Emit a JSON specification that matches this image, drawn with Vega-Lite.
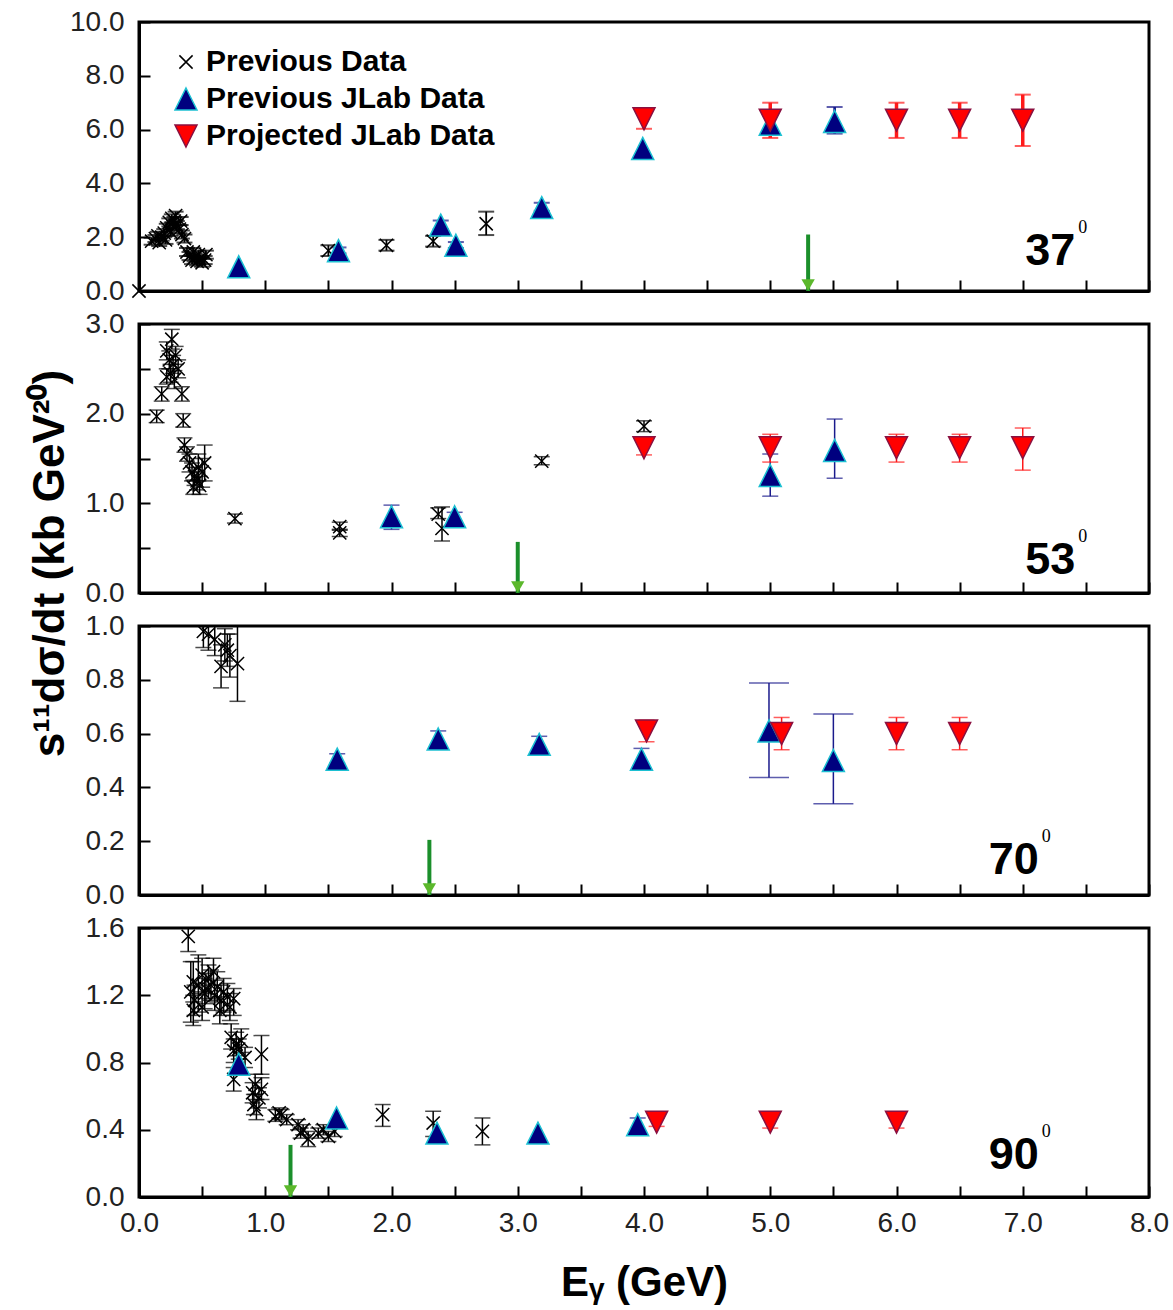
{
  "$schema": "https://vega.github.io/schema/vega-lite/v6.json",
  "background": "white",
  "padding": {"left": 26, "top": 6, "right": 5, "bottom": 5},
  "bounds": "flush",
  "spacing": 33,
  "resolve": {"legend": {"shape": "independent", "fill": "independent", "stroke": "independent"}},
  "config": {
    "font": "Liberation Sans",
    "view": {"stroke": "black", "strokeWidth": 3},
    "axis": {"domainColor": "black", "domainWidth": 3, "tickColor": "black", "tickWidth": 2, "tickSize": -11, "labelFont": "Liberation Sans", "labelFontSize": 28, "labelColor": "#222", "grid": false, "titleFont": "Liberation Sans", "titleFontWeight": "bold", "titleColor": "black", "labelOverlap": false, "labelFlush": false, "labelBound": false}
  },
  "datasets": {
    "notes": [
      {"panel": "37", "angle": "37", "E": 5.3, "top": 2.1},
      {"panel": "53", "angle": "53", "E": 3.0, "top": 0.57},
      {"panel": "70", "angle": "70", "E": 2.3, "top": 0.205},
      {"panel": "90", "angle": "90", "E": 1.2, "top": 0.31}
    ],
    "pts": [
      {"panel": "37", "series": "Previous Data", "E": 0.0, "v": 0.0},
      {"panel": "37", "series": "Previous Data", "E": 0.10, "v": 1.85, "lo": 1.72, "hi": 1.98},
      {"panel": "37", "series": "Previous Data", "E": 0.13, "v": 1.95, "lo": 1.82, "hi": 2.08},
      {"panel": "37", "series": "Previous Data", "E": 0.16, "v": 1.8, "lo": 1.67, "hi": 1.93},
      {"panel": "37", "series": "Previous Data", "E": 0.15, "v": 2.05, "lo": 1.9, "hi": 2.2},
      {"panel": "37", "series": "Previous Data", "E": 0.18, "v": 2.0, "lo": 1.87, "hi": 2.13},
      {"panel": "37", "series": "Previous Data", "E": 0.20, "v": 2.15, "lo": 2.0, "hi": 2.3},
      {"panel": "37", "series": "Previous Data", "E": 0.21, "v": 1.9, "lo": 1.75, "hi": 2.05},
      {"panel": "37", "series": "Previous Data", "E": 0.22, "v": 2.35, "lo": 2.2, "hi": 2.5},
      {"panel": "37", "series": "Previous Data", "E": 0.24, "v": 2.55, "lo": 2.4, "hi": 2.7},
      {"panel": "37", "series": "Previous Data", "E": 0.25, "v": 2.2, "lo": 2.05, "hi": 2.35},
      {"panel": "37", "series": "Previous Data", "E": 0.26, "v": 2.7, "lo": 2.55, "hi": 2.85},
      {"panel": "37", "series": "Previous Data", "E": 0.27, "v": 2.4, "lo": 2.25, "hi": 2.55},
      {"panel": "37", "series": "Previous Data", "E": 0.28, "v": 2.6, "lo": 2.45, "hi": 2.75},
      {"panel": "37", "series": "Previous Data", "E": 0.29, "v": 2.8, "lo": 2.65, "hi": 2.95},
      {"panel": "37", "series": "Previous Data", "E": 0.30, "v": 2.45, "lo": 2.3, "hi": 2.6},
      {"panel": "37", "series": "Previous Data", "E": 0.32, "v": 2.3, "lo": 2.15, "hi": 2.45},
      {"panel": "37", "series": "Previous Data", "E": 0.33, "v": 2.6, "lo": 2.45, "hi": 2.75},
      {"panel": "37", "series": "Previous Data", "E": 0.34, "v": 2.1, "lo": 1.95, "hi": 2.25},
      {"panel": "37", "series": "Previous Data", "E": 0.36, "v": 1.95, "lo": 1.8, "hi": 2.1},
      {"panel": "37", "series": "Previous Data", "E": 0.38, "v": 1.45, "lo": 1.3, "hi": 1.6},
      {"panel": "37", "series": "Previous Data", "E": 0.40, "v": 1.3, "lo": 1.15, "hi": 1.45},
      {"panel": "37", "series": "Previous Data", "E": 0.42, "v": 1.15, "lo": 1.0, "hi": 1.3},
      {"panel": "37", "series": "Previous Data", "E": 0.43, "v": 1.45, "lo": 1.3, "hi": 1.6},
      {"panel": "37", "series": "Previous Data", "E": 0.44, "v": 1.25, "lo": 1.1, "hi": 1.4},
      {"panel": "37", "series": "Previous Data", "E": 0.46, "v": 1.1, "lo": 0.95, "hi": 1.25},
      {"panel": "37", "series": "Previous Data", "E": 0.47, "v": 1.35, "lo": 1.2, "hi": 1.5},
      {"panel": "37", "series": "Previous Data", "E": 0.48, "v": 1.2, "lo": 1.05, "hi": 1.35},
      {"panel": "37", "series": "Previous Data", "E": 0.50, "v": 1.05, "lo": 0.9, "hi": 1.2},
      {"panel": "37", "series": "Previous Data", "E": 0.52, "v": 1.15, "lo": 1.0, "hi": 1.3},
      {"panel": "37", "series": "Previous Data", "E": 0.53, "v": 1.35, "lo": 1.2, "hi": 1.5},
      {"panel": "37", "series": "Previous Data", "E": 1.50, "v": 1.5, "lo": 1.3, "hi": 1.7},
      {"panel": "37", "series": "Previous Data", "E": 1.96, "v": 1.7, "lo": 1.5, "hi": 1.9},
      {"panel": "37", "series": "Previous Data", "E": 2.33, "v": 1.85, "lo": 1.65, "hi": 2.05},
      {"panel": "37", "series": "Previous Data", "E": 2.75, "v": 2.5, "lo": 2.08, "hi": 2.95},
      {"panel": "37", "series": "Previous JLab Data", "E": 0.79, "v": 0.9},
      {"panel": "37", "series": "Previous JLab Data", "E": 1.58, "v": 1.5, "lo": 1.4, "hi": 1.62},
      {"panel": "37", "series": "Previous JLab Data", "E": 2.39, "v": 2.45, "lo": 2.3, "hi": 2.62},
      {"panel": "37", "series": "Previous JLab Data", "E": 2.51, "v": 1.7, "lo": 1.6, "hi": 1.82},
      {"panel": "37", "series": "Previous JLab Data", "E": 3.19, "v": 3.1, "lo": 2.98, "hi": 3.28},
      {"panel": "37", "series": "Previous JLab Data", "E": 3.99, "v": 5.3},
      {"panel": "37", "series": "Previous JLab Data", "E": 5.0, "v": 6.2},
      {"panel": "37", "series": "Previous JLab Data", "E": 5.51, "v": 6.3, "lo": 5.85, "hi": 6.84},
      {"panel": "37", "series": "Projected JLab Data", "E": 4.0, "v": 6.4, "lo": 6.03, "hi": 6.77},
      {"panel": "37", "series": "Projected JLab Data", "E": 5.0, "v": 6.35, "lo": 5.69, "hi": 7.0},
      {"panel": "37", "series": "Projected JLab Data", "E": 6.0, "v": 6.35, "lo": 5.69, "hi": 7.0},
      {"panel": "37", "series": "Projected JLab Data", "E": 6.5, "v": 6.35, "lo": 5.69, "hi": 7.0},
      {"panel": "37", "series": "Projected JLab Data", "E": 7.0, "v": 6.35, "lo": 5.39, "hi": 7.3},

      {"panel": "53", "series": "Previous Data", "E": 0.26, "v": 2.83, "lo": 2.72, "hi": 2.94},
      {"panel": "53", "series": "Previous Data", "E": 0.22, "v": 2.7, "lo": 2.6, "hi": 2.8},
      {"panel": "53", "series": "Previous Data", "E": 0.24, "v": 2.6, "lo": 2.5, "hi": 2.7},
      {"panel": "53", "series": "Previous Data", "E": 0.27, "v": 2.55, "lo": 2.45, "hi": 2.65},
      {"panel": "53", "series": "Previous Data", "E": 0.29, "v": 2.65, "lo": 2.55, "hi": 2.75},
      {"panel": "53", "series": "Previous Data", "E": 0.31, "v": 2.5, "lo": 2.4, "hi": 2.6},
      {"panel": "53", "series": "Previous Data", "E": 0.25, "v": 2.45, "lo": 2.35, "hi": 2.55},
      {"panel": "53", "series": "Previous Data", "E": 0.28, "v": 2.38, "lo": 2.28, "hi": 2.48},
      {"panel": "53", "series": "Previous Data", "E": 0.22, "v": 2.41, "lo": 2.33, "hi": 2.5},
      {"panel": "53", "series": "Previous Data", "E": 0.18, "v": 2.22, "lo": 2.14, "hi": 2.3},
      {"panel": "53", "series": "Previous Data", "E": 0.34, "v": 2.22, "lo": 2.14, "hi": 2.3},
      {"panel": "53", "series": "Previous Data", "E": 0.14, "v": 1.97, "lo": 1.9, "hi": 2.04},
      {"panel": "53", "series": "Previous Data", "E": 0.35, "v": 1.92, "lo": 1.85, "hi": 2.0},
      {"panel": "53", "series": "Previous Data", "E": 0.36, "v": 1.65, "lo": 1.57, "hi": 1.73},
      {"panel": "53", "series": "Previous Data", "E": 0.38, "v": 1.55, "lo": 1.47, "hi": 1.63},
      {"panel": "53", "series": "Previous Data", "E": 0.40, "v": 1.45, "lo": 1.35, "hi": 1.55},
      {"panel": "53", "series": "Previous Data", "E": 0.42, "v": 1.35, "lo": 1.25, "hi": 1.45},
      {"panel": "53", "series": "Previous Data", "E": 0.44, "v": 1.3, "lo": 1.2, "hi": 1.4},
      {"panel": "53", "series": "Previous Data", "E": 0.46, "v": 1.25, "lo": 1.15, "hi": 1.35},
      {"panel": "53", "series": "Previous Data", "E": 0.48, "v": 1.2, "lo": 1.1, "hi": 1.3},
      {"panel": "53", "series": "Previous Data", "E": 0.43, "v": 1.18, "lo": 1.1, "hi": 1.26},
      {"panel": "53", "series": "Previous Data", "E": 0.50, "v": 1.35, "lo": 1.18, "hi": 1.5},
      {"panel": "53", "series": "Previous Data", "E": 0.52, "v": 1.45, "lo": 1.25, "hi": 1.65},
      {"panel": "53", "series": "Previous Data", "E": 0.47, "v": 1.4, "lo": 1.25, "hi": 1.55},
      {"panel": "53", "series": "Previous Data", "E": 0.76, "v": 0.83, "lo": 0.78, "hi": 0.88},
      {"panel": "53", "series": "Previous Data", "E": 1.59, "v": 0.74, "lo": 0.7, "hi": 0.79},
      {"panel": "53", "series": "Previous Data", "E": 1.59, "v": 0.67, "lo": 0.63, "hi": 0.71},
      {"panel": "53", "series": "Previous Data", "E": 2.37, "v": 0.88, "lo": 0.83, "hi": 0.95},
      {"panel": "53", "series": "Previous Data", "E": 2.40, "v": 0.72, "lo": 0.58, "hi": 0.96},
      {"panel": "53", "series": "Previous Data", "E": 3.19, "v": 1.47, "lo": 1.43, "hi": 1.52},
      {"panel": "53", "series": "Previous Data", "E": 4.0, "v": 1.86, "lo": 1.8, "hi": 1.92},
      {"panel": "53", "series": "Previous JLab Data", "E": 2.0, "v": 0.85, "lo": 0.71, "hi": 0.98},
      {"panel": "53", "series": "Previous JLab Data", "E": 2.5, "v": 0.85, "lo": 0.8, "hi": 0.9},
      {"panel": "53", "series": "Previous JLab Data", "E": 5.0, "v": 1.31, "lo": 1.08, "hi": 1.55},
      {"panel": "53", "series": "Previous JLab Data", "E": 5.51, "v": 1.59, "lo": 1.28, "hi": 1.94},
      {"panel": "53", "series": "Projected JLab Data", "E": 4.0, "v": 1.62, "lo": 1.54, "hi": 1.7},
      {"panel": "53", "series": "Projected JLab Data", "E": 5.0, "v": 1.62, "lo": 1.46, "hi": 1.77},
      {"panel": "53", "series": "Projected JLab Data", "E": 6.0, "v": 1.62, "lo": 1.46, "hi": 1.77},
      {"panel": "53", "series": "Projected JLab Data", "E": 6.5, "v": 1.62, "lo": 1.46, "hi": 1.77},
      {"panel": "53", "series": "Projected JLab Data", "E": 7.0, "v": 1.62, "lo": 1.37, "hi": 1.84},

      {"panel": "70", "series": "Previous Data", "E": 0.51, "v": 0.98, "lo": 0.92, "hi": 1.04},
      {"panel": "70", "series": "Previous Data", "E": 0.55, "v": 0.97, "lo": 0.91, "hi": 1.03},
      {"panel": "70", "series": "Previous Data", "E": 0.60, "v": 0.95, "lo": 0.89, "hi": 1.01},
      {"panel": "70", "series": "Previous Data", "E": 0.65, "v": 0.85, "lo": 0.77, "hi": 0.93},
      {"panel": "70", "series": "Previous Data", "E": 0.68, "v": 0.93, "lo": 0.87, "hi": 0.99},
      {"panel": "70", "series": "Previous Data", "E": 0.70, "v": 0.91, "lo": 0.85, "hi": 0.97},
      {"panel": "70", "series": "Previous Data", "E": 0.72, "v": 0.89, "lo": 0.81, "hi": 0.97},
      {"panel": "70", "series": "Previous Data", "E": 0.78, "v": 0.86, "lo": 0.72, "hi": 1.0},
      {"panel": "70", "series": "Previous JLab Data", "E": 1.57, "v": 0.505, "lo": 0.49, "hi": 0.525},
      {"panel": "70", "series": "Previous JLab Data", "E": 2.37, "v": 0.58, "lo": 0.56, "hi": 0.61},
      {"panel": "70", "series": "Previous JLab Data", "E": 3.17, "v": 0.56, "lo": 0.54, "hi": 0.59},
      {"panel": "70", "series": "Previous JLab Data", "E": 3.98, "v": 0.505, "lo": 0.465, "hi": 0.545},
      {"panel": "70", "series": "Previous JLab Data", "E": 4.99, "v": 0.61, "lo": 0.437, "hi": 0.788},
      {"panel": "70", "series": "Previous JLab Data", "E": 5.50, "v": 0.50, "lo": 0.339, "hi": 0.673},
      {"panel": "70", "series": "Projected JLab Data", "E": 4.02, "v": 0.61, "lo": 0.57, "hi": 0.65},
      {"panel": "70", "series": "Projected JLab Data", "E": 5.09, "v": 0.6, "lo": 0.54, "hi": 0.66},
      {"panel": "70", "series": "Projected JLab Data", "E": 6.0, "v": 0.6, "lo": 0.54, "hi": 0.66},
      {"panel": "70", "series": "Projected JLab Data", "E": 6.5, "v": 0.6, "lo": 0.54, "hi": 0.66},

      {"panel": "90", "series": "Previous Data", "E": 0.39, "v": 1.55, "lo": 1.46, "hi": 1.64},
      {"panel": "90", "series": "Previous Data", "E": 0.41, "v": 1.22, "lo": 1.04, "hi": 1.4},
      {"panel": "90", "series": "Previous Data", "E": 0.43, "v": 1.28, "lo": 1.16, "hi": 1.4},
      {"panel": "90", "series": "Previous Data", "E": 0.44, "v": 1.17, "lo": 1.08, "hi": 1.26},
      {"panel": "90", "series": "Previous Data", "E": 0.47, "v": 1.26, "lo": 1.1, "hi": 1.44},
      {"panel": "90", "series": "Previous Data", "E": 0.50, "v": 1.32, "lo": 1.22, "hi": 1.42},
      {"panel": "90", "series": "Previous Data", "E": 0.52, "v": 1.21, "lo": 1.12, "hi": 1.3},
      {"panel": "90", "series": "Previous Data", "E": 0.53, "v": 1.24, "lo": 1.15, "hi": 1.33},
      {"panel": "90", "series": "Previous Data", "E": 0.55, "v": 1.30, "lo": 1.18, "hi": 1.38},
      {"panel": "90", "series": "Previous Data", "E": 0.57, "v": 1.26, "lo": 1.17, "hi": 1.35},
      {"panel": "90", "series": "Previous Data", "E": 0.59, "v": 1.34, "lo": 1.26, "hi": 1.42},
      {"panel": "90", "series": "Previous Data", "E": 0.60, "v": 1.20, "lo": 1.11, "hi": 1.29},
      {"panel": "90", "series": "Previous Data", "E": 0.62, "v": 1.25, "lo": 1.16, "hi": 1.34},
      {"panel": "90", "series": "Previous Data", "E": 0.64, "v": 1.11, "lo": 1.03, "hi": 1.19},
      {"panel": "90", "series": "Previous Data", "E": 0.65, "v": 1.17, "lo": 1.08, "hi": 1.26},
      {"panel": "90", "series": "Previous Data", "E": 0.67, "v": 1.22, "lo": 1.1, "hi": 1.3},
      {"panel": "90", "series": "Previous Data", "E": 0.70, "v": 1.19, "lo": 1.11, "hi": 1.27},
      {"panel": "90", "series": "Previous Data", "E": 0.72, "v": 1.13, "lo": 1.05, "hi": 1.21},
      {"panel": "90", "series": "Previous Data", "E": 0.75, "v": 1.18, "lo": 1.08, "hi": 1.24},
      {"panel": "90", "series": "Previous Data", "E": 0.43, "v": 1.11, "lo": 1.02, "hi": 1.2},
      {"panel": "90", "series": "Previous Data", "E": 0.50, "v": 1.13, "lo": 1.05, "hi": 1.21},
      {"panel": "90", "series": "Previous Data", "E": 0.73, "v": 0.95, "lo": 0.88, "hi": 1.03},
      {"panel": "90", "series": "Previous Data", "E": 0.77, "v": 0.91, "lo": 0.84, "hi": 0.98},
      {"panel": "90", "series": "Previous Data", "E": 0.81, "v": 0.93, "lo": 0.86, "hi": 1.0},
      {"panel": "90", "series": "Previous Data", "E": 0.75, "v": 0.87, "lo": 0.8, "hi": 0.94},
      {"panel": "90", "series": "Previous Data", "E": 0.84, "v": 0.83, "lo": 0.77, "hi": 0.89},
      {"panel": "90", "series": "Previous Data", "E": 0.79, "v": 0.88, "lo": 0.82, "hi": 0.94},
      {"panel": "90", "series": "Previous Data", "E": 0.75, "v": 0.70, "lo": 0.63, "hi": 0.77},
      {"panel": "90", "series": "Previous Data", "E": 0.97, "v": 0.85, "lo": 0.73, "hi": 0.96},
      {"panel": "90", "series": "Previous Data", "E": 0.92, "v": 0.67, "lo": 0.61, "hi": 0.73},
      {"panel": "90", "series": "Previous Data", "E": 0.95, "v": 0.59, "lo": 0.53, "hi": 0.65},
      {"panel": "90", "series": "Previous Data", "E": 0.91, "v": 0.55, "lo": 0.49, "hi": 0.61},
      {"panel": "90", "series": "Previous Data", "E": 0.97, "v": 0.64, "lo": 0.58, "hi": 0.71},
      {"panel": "90", "series": "Previous Data", "E": 0.93, "v": 0.52, "lo": 0.46, "hi": 0.58},
      {"panel": "90", "series": "Previous Data", "E": 0.90, "v": 0.62, "lo": 0.56, "hi": 0.68},
      {"panel": "90", "series": "Previous Data", "E": 1.08, "v": 0.48, "lo": 0.45, "hi": 0.52},
      {"panel": "90", "series": "Previous Data", "E": 1.13, "v": 0.49, "lo": 0.46, "hi": 0.52},
      {"panel": "90", "series": "Previous Data", "E": 1.17, "v": 0.46, "lo": 0.43, "hi": 0.49},
      {"panel": "90", "series": "Previous Data", "E": 1.11, "v": 0.50, "lo": 0.47, "hi": 0.53},
      {"panel": "90", "series": "Previous Data", "E": 1.26, "v": 0.43, "lo": 0.4, "hi": 0.46},
      {"panel": "90", "series": "Previous Data", "E": 1.30, "v": 0.40, "lo": 0.37, "hi": 0.43},
      {"panel": "90", "series": "Previous Data", "E": 1.34, "v": 0.345, "lo": 0.3, "hi": 0.39},
      {"panel": "90", "series": "Previous Data", "E": 1.28, "v": 0.38, "lo": 0.35, "hi": 0.41},
      {"panel": "90", "series": "Previous Data", "E": 1.46, "v": 0.40, "lo": 0.37, "hi": 0.43},
      {"panel": "90", "series": "Previous Data", "E": 1.50, "v": 0.36, "lo": 0.33, "hi": 0.39},
      {"panel": "90", "series": "Previous Data", "E": 1.55, "v": 0.39, "lo": 0.36, "hi": 0.42},
      {"panel": "90", "series": "Previous Data", "E": 1.42, "v": 0.38, "lo": 0.35, "hi": 0.41},
      {"panel": "90", "series": "Previous Data", "E": 1.93, "v": 0.49, "lo": 0.42, "hi": 0.55},
      {"panel": "90", "series": "Previous Data", "E": 2.33, "v": 0.44, "lo": 0.36, "hi": 0.51},
      {"panel": "90", "series": "Previous Data", "E": 2.72, "v": 0.39, "lo": 0.31, "hi": 0.47},
      {"panel": "90", "series": "Previous JLab Data", "E": 0.79, "v": 0.79},
      {"panel": "90", "series": "Previous JLab Data", "E": 1.565, "v": 0.47},
      {"panel": "90", "series": "Previous JLab Data", "E": 2.36, "v": 0.38},
      {"panel": "90", "series": "Previous JLab Data", "E": 3.16, "v": 0.38},
      {"panel": "90", "series": "Previous JLab Data", "E": 3.95, "v": 0.43, "lo": 0.39, "hi": 0.47},
      {"panel": "90", "series": "Projected JLab Data", "E": 4.10, "v": 0.445, "lo": 0.42, "hi": 0.47},
      {"panel": "90", "series": "Projected JLab Data", "E": 5.0, "v": 0.445, "lo": 0.41, "hi": 0.47},
      {"panel": "90", "series": "Projected JLab Data", "E": 6.0, "v": 0.445, "lo": 0.41, "hi": 0.47}
    ]
  },
  "vconcat": [
    {
      "width": 1010, "height": 269,
      "layer": [
        {
          "data": {"name": "pts"}, "transform": [{"filter": "datum.panel === '37' && datum.lo != null"}],
          "mark": {"type": "rule"},
          "encoding": {
            "x": {"field": "E", "type": "quantitative", "scale": {"domain": [0, 8], "nice": false}, "axis": {"values": [0,0.5,1,1.5,2,2.5,3,3.5,4,4.5,5,5.5,6,6.5,7,7.5,8], "labels": false, "title": null}},
            "y": {"field": "lo", "type": "quantitative", "scale": {"domain": [0, 10], "nice": false}, "axis": {"values": [0,2,4,6,8,10], "format": ".1f", "title": null, "labelPadding": 26}},
            "y2": {"field": "hi"},
            "color": {"field": "series", "type": "nominal", "scale": {"domain": ["Projected JLab Data", "Previous JLab Data", "Previous Data"], "range": ["#ff1a1a", "#1a1a8c", "#000000"]}, "legend": null},
            "strokeWidth": {"field": "series", "type": "nominal", "scale": {"domain": ["Projected JLab Data", "Previous JLab Data", "Previous Data"], "range": [3.5, 1.8, 1.4]}, "legend": null}
          }
        },
        {
          "data": {"name": "pts"}, "transform": [{"filter": "datum.panel === '37' && datum.lo != null"}],
          "layer": [
            {"mark": {"type": "tick", "orient": "horizontal", "thickness": 2, "size": 16},
             "encoding": {"y": {"field": "lo", "type": "quantitative", "scale": {"domain": [0, 10], "nice": false}}}},
            {"mark": {"type": "tick", "orient": "horizontal", "thickness": 2, "size": 16},
             "encoding": {"y": {"field": "hi", "type": "quantitative", "scale": {"domain": [0, 10], "nice": false}}}}
          ],
          "encoding": {
            "x": {"field": "E", "type": "quantitative"},
            "color": {"field": "series", "type": "nominal", "scale": {"domain": ["Projected JLab Data", "Previous JLab Data", "Previous Data"], "range": ["#ff1a1a", "#1a1a8c", "#000000"]}, "legend": null}
          }
        },
        {
          "data": {"name": "pts"}, "transform": [{"filter": "datum.panel === '37'"}],
          "mark": {"type": "point", "size": 484, "strokeWidth": 1.5, "opacity": 1, "fillOpacity": 1},
          "encoding": {
            "x": {"field": "E", "type": "quantitative"},
            "y": {"field": "v", "type": "quantitative", "scale": {"domain": [0, 10], "nice": false}},
            "shape": {"field": "series", "type": "nominal", "scale": {"domain": ["Previous Data", "Previous JLab Data", "Projected JLab Data"], "range": ["M-0.6,-0.6L0.6,0.6M-0.6,0.6L0.6,-0.6", "M0,-1L1,1L-1,1Z", "M0,1L1,-1L-1,-1Z"]},
              "legend": {"title": null, "orient": "none", "legendX": 32, "legendY": 25, "symbolSize": 484, "labelFontSize": 30, "labelFontWeight": "bold", "labelColor": "black", "labelFont": "Liberation Sans", "labelLimit": 500, "rowPadding": 7, "labelOffset": 5, "symbolStrokeWidth": 1.5, "padding": 0}},
            "fill": {"field": "series", "type": "nominal", "scale": {"domain": ["Previous Data", "Previous JLab Data", "Projected JLab Data"], "range": ["transparent", "#00007f", "#ff0000"]}},
            "stroke": {"field": "series", "type": "nominal", "scale": {"domain": ["Previous Data", "Previous JLab Data", "Projected JLab Data"], "range": ["#000000", "#1cc0d2", "#8a1040"]}}
          }
        },
        {
          "data": {"name": "notes"}, "transform": [{"filter": "datum.panel === '37'"}],
          "layer": [
            {"mark": {"type": "rule", "color": "#1b8f2b", "strokeWidth": 4},
             "encoding": {"x": {"field": "E", "type": "quantitative"}, "y": {"field": "top", "type": "quantitative", "scale": {"domain": [0, 10], "nice": false}}, "y2": {"datum": 0}}},
            {"mark": {"type": "point", "shape": "triangle-down", "size": 180, "filled": true, "color": "#5cb82c", "opacity": 1, "yOffset": -6},
             "encoding": {"x": {"field": "E", "type": "quantitative"}, "y": {"datum": 0}}},
            {"mark": {"type": "text", "font": "Liberation Sans", "fontSize": 45, "fontWeight": "bold", "align": "left", "baseline": "alphabetic", "color": "black"},
             "encoding": {"x": {"datum": 7.02}, "y": {"datum": 0.97}, "text": {"field": "angle"}}},
            {"mark": {"type": "text", "font": "Liberation Serif", "fontSize": 18, "align": "left", "baseline": "alphabetic", "color": "black", "dx": 53, "dy": -32},
             "encoding": {"x": {"datum": 7.02}, "y": {"datum": 0.97}, "text": {"value": "0"}}}
          ]
        }
      ]
    },
    {
      "width": 1010, "height": 269,
      "layer": [
        {
          "data": {"name": "pts"}, "transform": [{"filter": "datum.panel === '53' && datum.lo != null"}],
          "mark": {"type": "rule", "strokeWidth": 1.5},
          "encoding": {
            "x": {"field": "E", "type": "quantitative", "scale": {"domain": [0, 8], "nice": false}, "axis": {"values": [0,0.5,1,1.5,2,2.5,3,3.5,4,4.5,5,5.5,6,6.5,7,7.5,8], "labels": false, "title": null}},
            "y": {"field": "lo", "type": "quantitative", "scale": {"domain": [0, 3], "nice": false}, "axis": {"values": [0,0.5,1,1.5,2,2.5,3], "labelExpr": "datum.value % 1 === 0 ? format(datum.value, '.1f') : ''", "labelPadding": 26, "title": "s¹¹dσ/dt (kb GeV²⁰)", "titleFontSize": 44, "titleX": -76, "titleY": 239, "titleBaseline": "alphabetic", "titleAngle": 270}},
            "y2": {"field": "hi"},
            "color": {"field": "series", "type": "nominal", "scale": {"domain": ["Projected JLab Data", "Previous JLab Data", "Previous Data"], "range": ["#ff1a1a", "#1a1a8c", "#000000"]}, "legend": null}
          }
        },
        {
          "data": {"name": "pts"}, "transform": [{"filter": "datum.panel === '53' && datum.lo != null"}],
          "layer": [
            {"mark": {"type": "tick", "orient": "horizontal", "thickness": 1.5, "size": 16},
             "encoding": {"y": {"field": "lo", "type": "quantitative", "scale": {"domain": [0, 3], "nice": false}}}},
            {"mark": {"type": "tick", "orient": "horizontal", "thickness": 1.5, "size": 16},
             "encoding": {"y": {"field": "hi", "type": "quantitative", "scale": {"domain": [0, 3], "nice": false}}}}
          ],
          "encoding": {
            "x": {"field": "E", "type": "quantitative"},
            "color": {"field": "series", "type": "nominal", "scale": {"domain": ["Projected JLab Data", "Previous JLab Data", "Previous Data"], "range": ["#ff1a1a", "#1a1a8c", "#000000"]}, "legend": null}
          }
        },
        {
          "data": {"name": "pts"}, "transform": [{"filter": "datum.panel === '53'"}],
          "mark": {"type": "point", "size": 484, "strokeWidth": 1.5, "opacity": 1, "fillOpacity": 1},
          "encoding": {
            "x": {"field": "E", "type": "quantitative"},
            "y": {"field": "v", "type": "quantitative", "scale": {"domain": [0, 3], "nice": false}},
            "shape": {"field": "series", "type": "nominal", "scale": {"domain": ["Previous Data", "Previous JLab Data", "Projected JLab Data"], "range": ["M-0.6,-0.6L0.6,0.6M-0.6,0.6L0.6,-0.6", "M0,-1L1,1L-1,1Z", "M0,1L1,-1L-1,-1Z"]}, "legend": null},
            "fill": {"field": "series", "type": "nominal", "scale": {"domain": ["Previous Data", "Previous JLab Data", "Projected JLab Data"], "range": ["transparent", "#00007f", "#ff0000"]}, "legend": null},
            "stroke": {"field": "series", "type": "nominal", "scale": {"domain": ["Previous Data", "Previous JLab Data", "Projected JLab Data"], "range": ["#000000", "#1cc0d2", "#8a1040"]}, "legend": null}
          }
        },
        {
          "data": {"name": "notes"}, "transform": [{"filter": "datum.panel === '53'"}],
          "layer": [
            {"mark": {"type": "rule", "color": "#1b8f2b", "strokeWidth": 4},
             "encoding": {"x": {"field": "E", "type": "quantitative"}, "y": {"field": "top", "type": "quantitative", "scale": {"domain": [0, 3], "nice": false}}, "y2": {"datum": 0}}},
            {"mark": {"type": "point", "shape": "triangle-down", "size": 180, "filled": true, "color": "#5cb82c", "opacity": 1, "yOffset": -6},
             "encoding": {"x": {"field": "E", "type": "quantitative"}, "y": {"datum": 0}}},
            {"mark": {"type": "text", "font": "Liberation Sans", "fontSize": 45, "fontWeight": "bold", "align": "left", "baseline": "alphabetic", "color": "black"},
             "encoding": {"x": {"datum": 7.02}, "y": {"datum": 0.212}, "text": {"field": "angle"}}},
            {"mark": {"type": "text", "font": "Liberation Serif", "fontSize": 18, "align": "left", "baseline": "alphabetic", "color": "black", "dx": 53, "dy": -32},
             "encoding": {"x": {"datum": 7.02}, "y": {"datum": 0.212}, "text": {"value": "0"}}}
          ]
        }
      ]
    },
    {
      "width": 1010, "height": 269,
      "layer": [
        {
          "data": {"name": "pts"}, "transform": [{"filter": "datum.panel === '70' && datum.lo != null"}],
          "mark": {"type": "rule", "strokeWidth": 1.5, "clip": true},
          "encoding": {
            "x": {"field": "E", "type": "quantitative", "scale": {"domain": [0, 8], "nice": false}, "axis": {"values": [0,0.5,1,1.5,2,2.5,3,3.5,4,4.5,5,5.5,6,6.5,7,7.5,8], "labels": false, "title": null}},
            "y": {"field": "lo", "type": "quantitative", "scale": {"domain": [0, 1], "nice": false}, "axis": {"values": [0,0.2,0.4,0.6,0.8,1.0], "format": ".1f", "labelPadding": 26, "title": null}},
            "y2": {"field": "hi"},
            "color": {"field": "series", "type": "nominal", "scale": {"domain": ["Projected JLab Data", "Previous JLab Data", "Previous Data"], "range": ["#ff1a1a", "#1a1a8c", "#000000"]}, "legend": null}
          }
        },
        {
          "data": {"name": "pts"}, "transform": [{"filter": "datum.panel === '70' && datum.lo != null && !(datum.series === 'Previous JLab Data' && datum.hi - datum.lo > 0.2)"}],
          "layer": [
            {"mark": {"type": "tick", "orient": "horizontal", "thickness": 1.5, "size": 16, "clip": true},
             "encoding": {"y": {"field": "lo", "type": "quantitative", "scale": {"domain": [0, 1], "nice": false}}}},
            {"mark": {"type": "tick", "orient": "horizontal", "thickness": 1.5, "size": 16, "clip": true},
             "encoding": {"y": {"field": "hi", "type": "quantitative", "scale": {"domain": [0, 1], "nice": false}}}}
          ],
          "encoding": {
            "x": {"field": "E", "type": "quantitative"},
            "color": {"field": "series", "type": "nominal", "scale": {"domain": ["Projected JLab Data", "Previous JLab Data", "Previous Data"], "range": ["#ff1a1a", "#1a1a8c", "#000000"]}, "legend": null}
          }
        },
        {
          "data": {"name": "pts"}, "transform": [{"filter": "datum.panel === '70' && datum.lo != null && datum.series === 'Previous JLab Data' && datum.hi - datum.lo > 0.2"}],
          "layer": [
            {"mark": {"type": "tick", "orient": "horizontal", "thickness": 1.5, "size": 40, "clip": true},
             "encoding": {"y": {"field": "lo", "type": "quantitative", "scale": {"domain": [0, 1], "nice": false}}}},
            {"mark": {"type": "tick", "orient": "horizontal", "thickness": 1.5, "size": 40, "clip": true},
             "encoding": {"y": {"field": "hi", "type": "quantitative", "scale": {"domain": [0, 1], "nice": false}}}}
          ],
          "encoding": {
            "x": {"field": "E", "type": "quantitative"},
            "color": {"field": "series", "type": "nominal", "scale": {"domain": ["Projected JLab Data", "Previous JLab Data", "Previous Data"], "range": ["#ff1a1a", "#1a1a8c", "#000000"]}, "legend": null}
          }
        },
        {
          "data": {"name": "pts"}, "transform": [{"filter": "datum.panel === '70'"}],
          "mark": {"type": "point", "size": 484, "strokeWidth": 1.5, "opacity": 1, "fillOpacity": 1, "clip": true},
          "encoding": {
            "x": {"field": "E", "type": "quantitative"},
            "y": {"field": "v", "type": "quantitative", "scale": {"domain": [0, 1], "nice": false}},
            "shape": {"field": "series", "type": "nominal", "scale": {"domain": ["Previous Data", "Previous JLab Data", "Projected JLab Data"], "range": ["M-0.6,-0.6L0.6,0.6M-0.6,0.6L0.6,-0.6", "M0,-1L1,1L-1,1Z", "M0,1L1,-1L-1,-1Z"]}, "legend": null},
            "fill": {"field": "series", "type": "nominal", "scale": {"domain": ["Previous Data", "Previous JLab Data", "Projected JLab Data"], "range": ["transparent", "#00007f", "#ff0000"]}, "legend": null},
            "stroke": {"field": "series", "type": "nominal", "scale": {"domain": ["Previous Data", "Previous JLab Data", "Projected JLab Data"], "range": ["#000000", "#1cc0d2", "#8a1040"]}, "legend": null}
          }
        },
        {
          "data": {"name": "notes"}, "transform": [{"filter": "datum.panel === '70'"}],
          "layer": [
            {"mark": {"type": "rule", "color": "#1b8f2b", "strokeWidth": 4},
             "encoding": {"x": {"field": "E", "type": "quantitative"}, "y": {"field": "top", "type": "quantitative", "scale": {"domain": [0, 1], "nice": false}}, "y2": {"datum": 0}}},
            {"mark": {"type": "point", "shape": "triangle-down", "size": 180, "filled": true, "color": "#5cb82c", "opacity": 1, "yOffset": -6},
             "encoding": {"x": {"field": "E", "type": "quantitative"}, "y": {"datum": 0}}},
            {"mark": {"type": "text", "font": "Liberation Sans", "fontSize": 45, "fontWeight": "bold", "align": "left", "baseline": "alphabetic", "color": "black"},
             "encoding": {"x": {"datum": 6.73}, "y": {"datum": 0.077}, "text": {"field": "angle"}}},
            {"mark": {"type": "text", "font": "Liberation Serif", "fontSize": 18, "align": "left", "baseline": "alphabetic", "color": "black", "dx": 53, "dy": -32},
             "encoding": {"x": {"datum": 6.73}, "y": {"datum": 0.077}, "text": {"value": "0"}}}
          ]
        }
      ]
    },
    {
      "width": 1010, "height": 269,
      "layer": [
        {
          "data": {"name": "pts"}, "transform": [{"filter": "datum.panel === '90' && datum.lo != null"}],
          "mark": {"type": "rule", "strokeWidth": 1.5, "clip": true},
          "encoding": {
            "x": {"field": "E", "type": "quantitative", "scale": {"domain": [0, 8], "nice": false}, "axis": {"values": [0,0.5,1,1.5,2,2.5,3,3.5,4,4.5,5,5.5,6,6.5,7,7.5,8], "labelExpr": "datum.value % 1 === 0 ? format(datum.value, '.1f') : ''", "labelPadding": 23, "title": "Eᵧ (GeV)", "titleFontSize": 42, "titleY": 98, "titleBaseline": "alphabetic"}},
            "y": {"field": "lo", "type": "quantitative", "scale": {"domain": [0, 1.6], "nice": false}, "axis": {"values": [0,0.2,0.4,0.6,0.8,1.0,1.2,1.4,1.6], "labelExpr": "round(datum.value * 10) % 4 === 0 ? format(datum.value, '.1f') : ''", "labelPadding": 26, "title": null}},
            "y2": {"field": "hi"},
            "color": {"field": "series", "type": "nominal", "scale": {"domain": ["Projected JLab Data", "Previous JLab Data", "Previous Data"], "range": ["#ff1a1a", "#1a1a8c", "#000000"]}, "legend": null}
          }
        },
        {
          "data": {"name": "pts"}, "transform": [{"filter": "datum.panel === '90' && datum.lo != null"}],
          "layer": [
            {"mark": {"type": "tick", "orient": "horizontal", "thickness": 1.5, "size": 16, "clip": true},
             "encoding": {"y": {"field": "lo", "type": "quantitative", "scale": {"domain": [0, 1.6], "nice": false}}}},
            {"mark": {"type": "tick", "orient": "horizontal", "thickness": 1.5, "size": 16, "clip": true},
             "encoding": {"y": {"field": "hi", "type": "quantitative", "scale": {"domain": [0, 1.6], "nice": false}}}}
          ],
          "encoding": {
            "x": {"field": "E", "type": "quantitative"},
            "color": {"field": "series", "type": "nominal", "scale": {"domain": ["Projected JLab Data", "Previous JLab Data", "Previous Data"], "range": ["#ff1a1a", "#1a1a8c", "#000000"]}, "legend": null}
          }
        },
        {
          "data": {"name": "pts"}, "transform": [{"filter": "datum.panel === '90'"}],
          "mark": {"type": "point", "size": 484, "strokeWidth": 1.5, "opacity": 1, "fillOpacity": 1, "clip": true},
          "encoding": {
            "x": {"field": "E", "type": "quantitative"},
            "y": {"field": "v", "type": "quantitative", "scale": {"domain": [0, 1.6], "nice": false}},
            "shape": {"field": "series", "type": "nominal", "scale": {"domain": ["Previous Data", "Previous JLab Data", "Projected JLab Data"], "range": ["M-0.6,-0.6L0.6,0.6M-0.6,0.6L0.6,-0.6", "M0,-1L1,1L-1,1Z", "M0,1L1,-1L-1,-1Z"]}, "legend": null},
            "fill": {"field": "series", "type": "nominal", "scale": {"domain": ["Previous Data", "Previous JLab Data", "Projected JLab Data"], "range": ["transparent", "#00007f", "#ff0000"]}, "legend": null},
            "stroke": {"field": "series", "type": "nominal", "scale": {"domain": ["Previous Data", "Previous JLab Data", "Projected JLab Data"], "range": ["#000000", "#1cc0d2", "#8a1040"]}, "legend": null}
          }
        },
        {
          "data": {"name": "notes"}, "transform": [{"filter": "datum.panel === '90'"}],
          "layer": [
            {"mark": {"type": "rule", "color": "#1b8f2b", "strokeWidth": 4},
             "encoding": {"x": {"field": "E", "type": "quantitative"}, "y": {"field": "top", "type": "quantitative", "scale": {"domain": [0, 1.6], "nice": false}}, "y2": {"datum": 0}}},
            {"mark": {"type": "point", "shape": "triangle-down", "size": 180, "filled": true, "color": "#5cb82c", "opacity": 1, "yOffset": -6},
             "encoding": {"x": {"field": "E", "type": "quantitative"}, "y": {"datum": 0}}},
            {"mark": {"type": "text", "font": "Liberation Sans", "fontSize": 45, "fontWeight": "bold", "align": "left", "baseline": "alphabetic", "color": "black"},
             "encoding": {"x": {"datum": 6.73}, "y": {"datum": 0.167}, "text": {"field": "angle"}}},
            {"mark": {"type": "text", "font": "Liberation Serif", "fontSize": 18, "align": "left", "baseline": "alphabetic", "color": "black", "dx": 53, "dy": -32},
             "encoding": {"x": {"datum": 6.73}, "y": {"datum": 0.167}, "text": {"value": "0"}}}
          ]
        }
      ]
    }
  ]
}
